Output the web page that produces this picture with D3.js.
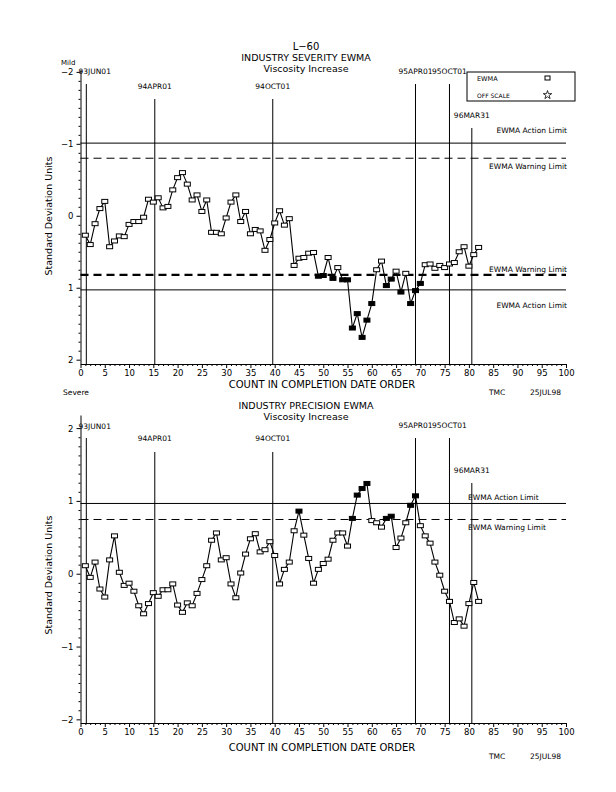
<!DOCTYPE html>
<html>
<head>
<meta charset="utf-8">
<script src="https://cdn.jsdelivr.net/npm/d3@7"></script>
<style>
  body { margin: 0; background: #fff; }
  svg { display: block; }
  text { font-family: "DejaVu Sans", "Liberation Sans", sans-serif; fill: #000; }
</style>
</head>
<body>
<svg id="chart" width="616" height="792"></svg>
<script>
// ---------- DATA ----------
const counts = d3.range(1, 83);
const severity = [
  0.27, 0.40, 0.11, -0.10, -0.20, 0.43, 0.35, 0.28, 0.29, 0.12,
  0.08, 0.08, 0.02, -0.23, -0.19, -0.25, -0.11, -0.13, -0.36, -0.53,
  -0.60, -0.44, -0.22, -0.29, -0.06, -0.22, 0.23, 0.23, 0.25, 0.03,
  -0.19, -0.29, 0.08, -0.06, 0.25, 0.19, 0.21, 0.48, 0.33, 0.10,
  -0.07, 0.13, 0.04, 0.69, 0.59, 0.58, 0.52, 0.51, 0.84, 0.83,
  0.58, 0.87, 0.72, 0.89, 0.89, 1.56, 1.36, 1.69, 1.45, 1.22,
  0.75, 0.63, 0.97, 0.88, 0.77, 1.06, 0.80, 1.22, 1.04, 0.94,
  0.68, 0.67, 0.73, 0.69, 0.72, 0.67, 0.65, 0.50, 0.43, 0.70,
  0.54, 0.44
];
const precision = [
  0.11, -0.05, 0.16, -0.21, -0.32, 0.19, 0.52, 0.02, -0.16, -0.13,
  -0.24, -0.44, -0.55, -0.41, -0.26, -0.31, -0.22, -0.22, -0.14, -0.43,
  -0.53, -0.40, -0.44, -0.27, -0.08, 0.11, 0.46, 0.56, 0.19, 0.22,
  -0.14, -0.33, 0.01, 0.27, 0.48, 0.55, 0.30, 0.33, 0.44, 0.25,
  -0.14, 0.06, 0.16, 0.59, 0.86, 0.53, 0.21, -0.13, 0.06, 0.14,
  0.20, 0.46, 0.56, 0.56, 0.38, 0.76, 1.08, 1.17, 1.24, 0.73,
  0.70, 0.64, 0.76, 0.79, 0.36, 0.49, 0.70, 0.94, 1.07, 0.66,
  0.52, 0.42, 0.16, -0.02, -0.24, -0.38, -0.67, -0.62, -0.72, -0.41,
  -0.12, -0.38
];
const xTicks = d3.range(0, 101, 5);
const xMinorTicks = d3.range(0, 101, 1);
const yTicks = [-2, -1, 0, 1, 2];
const yMinorTicks = d3.range(-2, 2.001, 0.125);
const eventDates  = ["93JUN01", "94APR01", "94OCT01", "95APR01", "95OCT01", "96MAR31"];
const eventCounts = [1.2, 15.3, 39.6, 69.0, 76.0, 80.6];
const severityActionLimits  = [-1.01, 1.03];
const severityWarningLimits = [-0.80, 0.82];
const precisionActionLimits  = [0.965];
const precisionWarningLimits = [0.745];

// ---------- LAYOUT ----------
const svg = d3.select("#chart");
const x = d3.scaleLinear().domain([0, 100]).range([80.5, 566]);

function txt(g, xx, yy, s, size, anchor, extra) {
  const t = g.append("text").attr("x", xx).attr("y", yy)
    .attr("font-size", size).attr("text-anchor", anchor || "middle")
    .attr("dominant-baseline", "central").text(s);
  if (extra) extra(t);
  return t;
}

function panel(cfg) {
  const g = svg.append("g");
  const y = cfg.y;
  const yTop = y.range()[0], yBot = y.range()[1];
  const axisY = Math.max(yTop, yBot);

  // titles
  cfg.titles.forEach(t => txt(g, 306, t.y, t.s, t.size));

  // limit lines
  cfg.action.forEach(v => {
    g.append("line").attr("x1", x(0)).attr("x2", x(100))
      .attr("y1", y(v)).attr("y2", y(v)).attr("stroke", "#000").attr("stroke-width", 1);
  });
  cfg.warning.forEach((v, i) => {
    g.append("line").attr("x1", x(0)).attr("x2", x(100))
      .attr("y1", y(v)).attr("y2", y(v)).attr("stroke", "#000")
      .attr("stroke-width", cfg.warningWidths[i]).attr("stroke-dasharray", "8,5");
  });
  cfg.limitLabels.forEach(l => txt(g, l.x, l.y, l.s, 7.5, l.anchor));

  // event lines
  eventCounts.forEach((c, i) => {
    g.append("line").attr("x1", x(c)).attr("x2", x(c))
      .attr("y1", cfg.eventTop[i]).attr("y2", axisY)
      .attr("stroke", "#000").attr("stroke-width", 1);
    if (i === 0) txt(g, x(0) - 2, cfg.eventLabelY[i], eventDates[i], 7.5, "start");
    else txt(g, x(c), cfg.eventLabelY[i], eventDates[i], 7.5);
  });

  // x axis
  const xa = g.append("g").attr("transform", `translate(0,${axisY})`)
    .call(d3.axisBottom(x).tickValues(xTicks).tickSize(4).tickSizeOuter(0).tickFormat(d3.format("d")));
  xa.selectAll("text").attr("font-size", 8.5).attr("dy", null).attr("y", 9)
    .attr("dominant-baseline", "central").attr("font-family", "DejaVu Sans");
  xa.selectAll("line, path").attr("stroke", "#000");
  g.append("g").attr("transform", `translate(0,${axisY})`)
    .call(d3.axisBottom(x).tickValues(xMinorTicks.filter(d => d % 5)).tickSize(2).tickSizeOuter(0).tickFormat(""))
    .call(s => s.select(".domain").remove())
    .selectAll("line").attr("stroke", "#000");

  // y axis
  const ya = g.append("g").attr("transform", `translate(${x(0)},0)`)
    .call(d3.axisLeft(y).tickValues(yTicks).tickSize(4).tickSizeOuter(0)
      .tickFormat(d => d < 0 ? "\u2212" + Math.abs(d) : d));
  ya.selectAll("text").attr("font-size", 8.5).attr("x", -7).attr("dy", null)
    .attr("dominant-baseline", "central").attr("font-family", "DejaVu Sans");
  ya.selectAll("line, path").attr("stroke", "#000");
  g.append("g").attr("transform", `translate(${x(0)},0)`)
    .call(d3.axisLeft(y).tickValues(yMinorTicks.filter(d => Math.abs(d - Math.round(d)) > 1e-6)).tickSize(2).tickSizeOuter(0).tickFormat(""))
    .call(s => s.select(".domain").remove())
    .selectAll("line").attr("stroke", "#000");

  // axis labels
  txt(g, 48, cfg.ylabelY, "Standard Deviation Units", 9.5, "middle",
      t => t.attr("transform", `rotate(-90,48,${cfg.ylabelY})`));
  txt(g, 322, cfg.xlabelY, "COUNT IN COMPLETION DATE ORDER", 10);
  txt(g, 489, cfg.footY, "TMC", 7.5, "start");
  txt(g, 530, cfg.footY, "25JUL98", 7.5, "start");
  (cfg.extraText || []).forEach(e => txt(g, e.x, e.y, e.s, e.size || 7, e.anchor || "start"));

  // data line
  const pts = counts.map((c, i) => ({c, v: cfg.values[i]}));
  const line = d3.line().x(d => x(d.c)).y(d => y(d.v));
  g.append("path").datum(pts).attr("d", line)
    .attr("fill", "none").attr("stroke", "#000").attr("stroke-width", 1.1);
  g.selectAll("rect.pt").data(pts).join("rect").attr("class", "pt")
    .attr("x", d => x(d.c) - 3).attr("y", d => y(d.v) - 2)
    .attr("width", 6).attr("height", 4)
    .attr("fill", d => cfg.isOut(d.v) ? "#000" : "#fff")
    .attr("stroke", "#000").attr("stroke-width", 1);
  return g;
}

// Top: severity (inverted axis: Mild at top)
const yTop = d3.scaleLinear().domain([-2.04, 2.06]).range([69, 364]);
panel({
  y: yTop, values: severity,
  titles: [{y: 46, s: "L\u221260", size: 10}, {y: 57, s: "INDUSTRY SEVERITY EWMA", size: 9.5}, {y: 68, s: "Viscosity Increase", size: 9.5}],
  action: severityActionLimits, warning: severityWarningLimits, warningWidths: [1, 2.2],
  limitLabels: [
    {x: 567, y: 130, s: "EWMA Action Limit", anchor: "end"},
    {x: 567, y: 166, s: "EWMA Warning Limit", anchor: "end"},
    {x: 567, y: 269, s: "EWMA Warning Limit", anchor: "end"},
    {x: 567, y: 305, s: "EWMA Action Limit", anchor: "end"}
  ],
  eventTop: [84, 99, 99, 84, 84, 128],
  eventLabelY: [71, 86, 86, 71, 71, 115],
  ylabelY: 216, xlabelY: 384, footY: 392,
  extraText: [{x: 61, y: 63, s: "Mild", size: 7}, {x: 63, y: 392, s: "Severe", size: 7.5}],
  isOut: v => v > severityWarningLimits[1] || v < severityWarningLimits[0]
});

// Bottom: precision
const yBot = d3.scaleLinear().domain([2.18, -2.05]).range([415, 723]);
panel({
  y: yBot, values: precision,
  titles: [{y: 405, s: "INDUSTRY PRECISION EWMA", size: 9.5}, {y: 416, s: "Viscosity Increase", size: 9.5}],
  action: precisionActionLimits, warning: precisionWarningLimits, warningWidths: [1],
  limitLabels: [
    {x: 468, y: 497, s: "EWMA Action Limit", anchor: "start"},
    {x: 468, y: 527, s: "EWMA Warning Limit", anchor: "start"}
  ],
  eventTop: [438, 452, 452, 438, 438, 483],
  eventLabelY: [426, 438, 438, 425, 425, 470],
  ylabelY: 575, xlabelY: 747, footY: 756,
  isOut: v => v > precisionWarningLimits[0]
});

// Legend (top panel)
const lg = svg.append("g");
lg.append("rect").attr("x", 467).attr("y", 72).attr("width", 108).attr("height", 29)
  .attr("fill", "#fff").attr("stroke", "#000").attr("stroke-width", 1);
txt(lg, 477, 79, "EWMA", 6.5, "start");
txt(lg, 477, 95, "OFF SCALE", 6, "start");
lg.append("rect").attr("x", 545).attr("y", 76).attr("width", 5).attr("height", 4)
  .attr("fill", "#fff").attr("stroke", "#000");
lg.append("path").attr("d", d3.symbol(d3.symbolStar).size(22)())
  .attr("transform", "translate(547.5,95)").attr("fill", "#fff").attr("stroke", "#000").attr("stroke-width", 0.8);
</script>
</body>
</html>
